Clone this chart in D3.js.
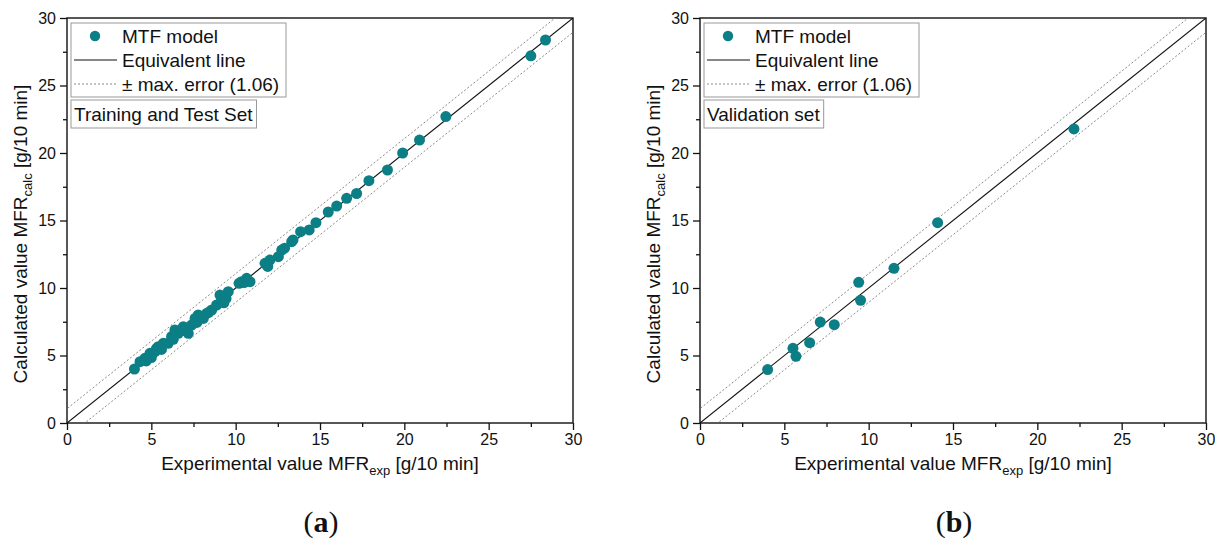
<!DOCTYPE html>
<html>
<head>
<meta charset="utf-8">
<script src="https://cdn.jsdelivr.net/npm/d3@7"></script>
<style>
  body { margin: 0; background: #fff; }
  text { font-family: "Liberation Sans", Arial, sans-serif; }
</style>
</head>
<body>
<svg id="chart" width="1215" height="539"></svg>
<script>
// training and test set (panel a)
const trainExp = [4.0, 4.33, 4.62, 4.92, 5.22, 5.41, 5.71, 6.0, 6.2, 6.4, 6.6, 6.9, 7.19, 7.39, 7.59,
  7.78, 8.08, 8.28, 8.58, 8.87, 9.17, 9.07, 9.43, 9.56, 10.35, 10.65, 10.85, 11.74, 12.03, 12.53,
  12.73, 13.32, 13.4, 13.85, 14.36, 14.76, 15.49, 15.99, 16.58, 17.17, 17.9, 19.0, 19.9, 20.9,
  22.46, 27.5, 28.37, 5.0, 5.6, 6.3, 7.0, 7.7, 8.4, 9.3, 10.5, 11.9, 12.9, 10.2, 4.7, 5.3, 6.8];
const trainCalc = [4.0, 4.54, 4.79, 5.16, 5.28, 5.65, 5.9, 5.9, 6.4, 6.89, 6.64, 7.13, 6.64, 7.26, 7.75,
  8.0, 7.75, 8.12, 8.37, 8.74, 9.11, 9.48, 9.23, 9.73, 10.47, 10.72, 10.47, 11.83, 12.07, 12.32,
  12.81, 13.43, 13.56, 14.17, 14.3, 14.84, 15.63, 16.07, 16.64, 17.0, 17.95, 18.74, 20.0, 20.96,
  22.7, 27.2, 28.37, 4.85, 5.45, 6.2, 6.85, 7.45, 8.2, 8.9, 10.4, 11.6, 12.95, 10.35, 4.6, 5.5, 6.9];

// validation set (panel b)
const validExp = [4.01, 5.51, 5.69, 6.5, 7.13, 7.96, 9.41, 9.52, 11.5, 14.09, 22.17];
const validCalc = [3.96, 5.53, 4.94, 5.95, 7.48, 7.28, 10.42, 9.09, 11.46, 14.84, 21.78];

const maxError = 1.06;
const axisTicks = [0, 5, 10, 15, 20, 25, 30];
const minorTicks = [2.5, 7.5, 12.5, 17.5, 22.5, 27.5];
const legendLabels = ["MTF model", "Equivalent line", "\u00b1 max. error (1.06)"];

const panels = [
  { left: 67, tag: "a", caption: "Training and Test Set", xs: trainExp, ys: trainCalc },
  { left: 700, tag: "b", caption: "Validation set", xs: validExp, ys: validCalc }
];

const svg = d3.select("#chart");
const plotTop = 18, plotBottom = 423, plotW = 506;
const teal = "#0b7f85";
const ink = "#111";

panels.forEach(function(p, i) {
  const x = d3.scaleLinear().domain([0, 30]).range([p.left, p.left + plotW]);
  const y = d3.scaleLinear().domain([0, 30]).range([plotBottom, plotTop]);
  const g = svg.append("g");

  g.append("clipPath").attr("id", "clip" + i)
    .append("rect").attr("x", x(0)).attr("y", y(30))
    .attr("width", plotW).attr("height", plotBottom - plotTop);

  // minor ticks
  g.append("g").attr("transform", "translate(0," + plotBottom + ")")
    .call(d3.axisBottom(x).tickValues(minorTicks).tickSize(4).tickFormat(""))
    .call(a => a.select(".domain").remove());
  g.append("g").attr("transform", "translate(" + p.left + ",0)")
    .call(d3.axisLeft(y).tickValues(minorTicks).tickSize(4).tickFormat(""))
    .call(a => a.select(".domain").remove());

  // major ticks
  const xa = g.append("g").attr("transform", "translate(0," + plotBottom + ")")
    .call(d3.axisBottom(x).tickValues(axisTicks).tickSize(7).tickPadding(4).tickFormat(d3.format("d")));
  const ya = g.append("g").attr("transform", "translate(" + p.left + ",0)")
    .call(d3.axisLeft(y).tickValues(axisTicks).tickSize(7).tickPadding(4).tickFormat(d3.format("d")));
  [xa, ya].forEach(a => {
    a.select(".domain").remove();
    a.selectAll("text").attr("font-size", 16).attr("fill", ink)
      .style("font-family", "'Liberation Sans', Arial, sans-serif");
  });
  g.selectAll(".tick line").attr("stroke", ink).attr("stroke-width", 1.3);

  // frame
  g.append("rect").attr("x", x(0)).attr("y", y(30))
    .attr("width", plotW).attr("height", plotBottom - plotTop)
    .attr("fill", "none").attr("stroke", ink).attr("stroke-width", 1.4);

  // reference lines
  const lines = g.append("g").attr("clip-path", "url(#clip" + i + ")");
  [maxError, -maxError].forEach(function(off) {
    lines.append("line")
      .attr("x1", x(-2)).attr("y1", y(-2 + off))
      .attr("x2", x(32)).attr("y2", y(32 + off))
      .attr("stroke", "#8a8a8a").attr("stroke-width", 1).attr("stroke-dasharray", "2,2");
  });
  lines.append("line")
    .attr("x1", x(0)).attr("y1", y(0)).attr("x2", x(30)).attr("y2", y(30))
    .attr("stroke", ink).attr("stroke-width", 1.1);

  // points
  g.append("g").selectAll("circle")
    .data(p.xs.map((v, k) => [v, p.ys[k]]))
    .join("circle")
    .attr("cx", d => x(d[0])).attr("cy", d => y(d[1]))
    .attr("r", 5.5).attr("fill", teal);

  // legend
  const lx = p.left + 4, ly = 23;
  const lg = g.append("g");
  lg.append("rect").attr("x", lx).attr("y", ly).attr("width", 215).attr("height", 74)
    .attr("fill", "#fff").attr("stroke", "#999").attr("stroke-width", 1);
  lg.append("circle").attr("cx", lx + 24).attr("cy", ly + 13).attr("r", 5.2).attr("fill", teal);
  lg.append("line").attr("x1", lx + 3).attr("x2", lx + 46).attr("y1", ly + 37).attr("y2", ly + 37)
    .attr("stroke", ink).attr("stroke-width", 1.1);
  lg.append("line").attr("x1", lx + 3).attr("x2", lx + 46).attr("y1", ly + 61).attr("y2", ly + 61)
    .attr("stroke", "#8a8a8a").attr("stroke-width", 1).attr("stroke-dasharray", "2,2");
  legendLabels.forEach(function(t, k) {
    lg.append("text").attr("x", lx + 51).attr("y", ly + 20 + k * 24)
      .attr("font-size", 19).attr("fill", ink).text(t);
  });
  const capBox = lg.append("rect").attr("x", lx).attr("y", 100).attr("height", 28)
    .attr("fill", "#fff").attr("stroke", "#999").attr("stroke-width", 1);
  const cap = lg.append("text").attr("x", lx + 3).attr("y", 121).attr("font-size", 19)
    .attr("fill", ink).text(p.caption);
  capBox.attr("width", cap.node().getComputedTextLength() + 7);

  // axis titles
  const cx = p.left + plotW / 2;
  const xt = g.append("text").attr("x", cx).attr("y", 470).attr("text-anchor", "middle")
    .attr("font-size", 19).attr("fill", ink);
  xt.append("tspan").text("Experimental value MFR");
  xt.append("tspan").attr("font-size", 13).attr("dy", 5).text("exp");
  xt.append("tspan").attr("dy", -5).text(" [g/10 min]");

  const yt = g.append("text")
    .attr("transform", "translate(" + (p.left - 40) + "," + 234 + ") rotate(-90)")
    .attr("text-anchor", "middle").attr("font-size", 19).attr("fill", ink);
  yt.append("tspan").text("Calculated value MFR");
  yt.append("tspan").attr("font-size", 13).attr("dy", 5).text("calc");
  yt.append("tspan").attr("dy", -5).text(" [g/10 min]");

  // panel tag
  const tg = g.append("text").attr("x", cx + 1).attr("y", 532).attr("text-anchor", "middle")
    .attr("font-size", 30).attr("fill", ink)
    .style("font-family", "'Liberation Serif', 'DejaVu Serif', serif");
  tg.append("tspan").text("(");
  tg.append("tspan").attr("font-weight", "bold").text(p.tag);
  tg.append("tspan").text(")");
});
</script>
</body>
</html>
